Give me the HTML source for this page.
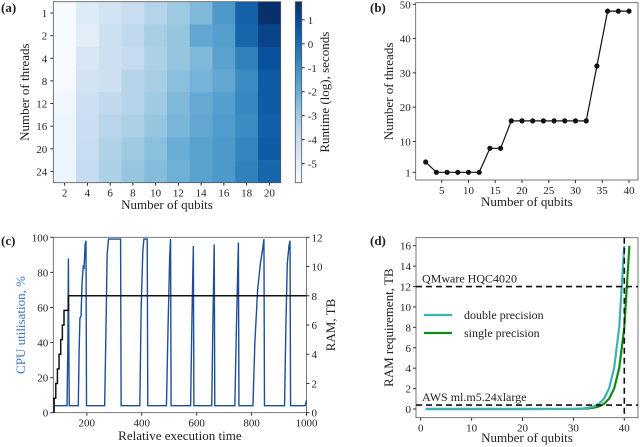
<!DOCTYPE html>
<html><head><meta charset="utf-8">
<style>
body{margin:0;background:#fff;}
svg{display:block;font-family:"Liberation Serif",serif;}
text{fill:#222;}
</style></head>
<body>
<svg id="fig" width="640" height="447" viewBox="0 0 640 447" xmlns="http://www.w3.org/2000/svg">
<defs>
<linearGradient id="cbgrad" x1="0" y1="1" x2="0" y2="0">
<stop offset="0" stop-color="#f7fbff"/><stop offset="0.125" stop-color="#deebf7"/><stop offset="0.25" stop-color="#c6dbef"/><stop offset="0.375" stop-color="#9ecae1"/><stop offset="0.5" stop-color="#6baed6"/><stop offset="0.625" stop-color="#4292c6"/><stop offset="0.75" stop-color="#2171b5"/><stop offset="0.875" stop-color="#08519c"/><stop offset="1" stop-color="#08306b"/>
</linearGradient>
</defs>
<g id="pa"></g>
<g id="pb"></g>
<g id="pc"></g>
<g id="pd"></g>
</svg>
<script>
// ---- Panel (a) data
const hmQubits=[2,4,6,8,10,12,14,16,18,20];
const hmThreads=[1,2,4,8,12,16,20,24];
const hmRow1=[-5.8,-4.8,-4.4,-4.0,-3.5,-3.0,-2.4,-1.3,0.3,1.75];
const hmRow2=[-5.8,-5.0,-4.2,-3.8,-3.2,-2.8,-1.8,-1.5,0.2,1.2];
const hmRow4=[-5.9,-4.6,-4.2,-3.9,-3.3,-2.8,-2.4,-1.6,-0.6,0.8];
const hmRow8=[-5.8,-4.4,-4.2,-3.5,-3.2,-2.6,-2.2,-1.8,-0.9,0.5];
const hmRow12=[-5.5,-4.2,-3.8,-3.5,-3.0,-2.4,-1.9,-1.5,-0.8,0.5];
const hmRow16=[-5.4,-4.1,-3.6,-3.3,-2.8,-2.3,-1.8,-1.4,-0.9,0.4];
const hmRow20=[-5.4,-4.0,-3.4,-3.0,-2.6,-2.0,-1.6,-1.3,-0.7,0.5];
const hmRow24=[-5.4,-3.9,-3.3,-2.8,-2.5,-2.1,-1.6,-1.3,-0.6,0.2];
const hmRows=[hmRow1,hmRow2,hmRow4,hmRow8,hmRow12,hmRow16,hmRow20,hmRow24];
const cbTicks=[1,0,-1,-2,-3,-4,-5];
// ---- Panel (b) data
const bQubits=[2,4,6,8,10,12,14,16,18,20,22,24,26,28,30,32,34,36,38,40];
const bThreads=[4,1,1,1,1,1,8,8,16,16,16,16,16,16,16,16,32,48,48,48];
const bXTicks=[5,10,15,20,25,30,35,40];
const bYTicks=[1,10,20,30,40,50];
// ---- Panel (c) data
const cpuTime=[78,128,131,133,135,136,169,172,175,179,183,187,190,194,197,199,265,269,274,279,323,325,393,398,404,408,420,422,490,496,502,505,507,578,583,588,590,655,659,664,666,739,745,752,754,805,812,822,832,840,845,847,920,925,930,936,940,942,995,1000];
const cpuVal=[4,4,40,88,30,4,4,35,54,55,75,83,82,96,98,4,4,40,90,99,99,4,4,60,92,99,99,4,4,50,90,99,4,4,55,95,4,4,50,96,4,4,50,97,4,4,40,70,85,93,99,4,4,50,85,95,98,4,4,7];
const ramStepTime=[81,87,93,99,105,111,117,125,133];
const ramStepVal=[1,2,3,4,5,6,7,7,8];
const cXTicks=[200,400,600,800,1000];
const cpuTicks=[0,20,40,60,80,100];
const ramTicks=[0,2,4,6,8,10,12];
// ---- Panel (d) data
const dQubitsDouble=[1,10,20,30,31,32,33,34,35,36,37,38,39,40];
const dRamDouble=[0,0,0,0.016,0.031,0.0625,0.125,0.25,0.5,1,2,4,8,16];
const dQubitsSingle=[1,10,20,30,31,32,33,34,35,36,37,38,39,40,41];
const dRamSingle=[0,0,0,0.008,0.016,0.031,0.0625,0.125,0.25,0.5,1,2,4,8,16];
const dHLines=[12,0.384];
const dVLine=[40];
const dXTicks=[0,10,20,30,40];
const dYTicks=[0,2,4,6,8,10,12,14,16];

const NS="http://www.w3.org/2000/svg";
function mk(parent,tag,attrs,txt){const e=document.createElementNS(NS,tag);for(const k in attrs)e.setAttribute(k,attrs[k]);if(txt!==undefined)e.textContent=txt;parent.appendChild(e);return e;}
function lin(d0,d1,r0,r1){return v=>r0+(v-d0)*(r1-r0)/(d1-d0);}
const blues=[[247,251,255],[222,235,247],[198,219,239],[158,202,225],[107,174,214],[66,146,198],[33,113,181],[8,81,156],[8,48,107]];
function blue(t){t=Math.max(0,Math.min(1,t));const p=t*8,i=Math.min(7,Math.floor(p)),f=p-i;const a=blues[i],b=blues[i+1];return `rgb(${a.map((c,k)=>Math.round(c+(b[k]-c)*f)).join(',')})`;}

// ===== Panel A
(function(){
const g=document.getElementById('pa');
const L=53.3,R=280.7,T=1.7,B=182.7;
const cw=(R-L)/hmQubits.length, ch=(B-T)/hmThreads.length;
const vmin=-5.8,vmax=1.76;
hmRows.forEach((row,r)=>row.forEach((v,c)=>{
 const e=mk(g,'rect',{x:L+c*cw,y:T+r*ch,width:cw+0.3,height:ch+0.3,fill:blue((v-vmin)/(vmax-vmin))});
 
 
}));
mk(g,'rect',{x:L,y:T,width:R-L,height:B-T,fill:'none',stroke:'#555','stroke-width':0.8});
hmQubits.forEach((q,c)=>{const x=L+(c+0.5)*cw;mk(g,'line',{x1:x,x2:x,y1:B,y2:B+3,stroke:'#333'});
 const t=mk(g,'text',{x:x,y:B+14,'text-anchor':'middle','font-size':11},q);});
hmThreads.forEach((n,r)=>{const y=T+(r+0.5)*ch;mk(g,'line',{x1:L-3,x2:L,y1:y,y2:y,stroke:'#333'});
 const t=mk(g,'text',{x:L-6,y:y+4,'text-anchor':'end','font-size':11},n);});
let t=mk(g,'text',{x:(L+R)/2,y:209,'text-anchor':'middle','font-size':13},'Number of qubits');
t=mk(g,'text',{x:0,y:0,'text-anchor':'middle','font-size':13,transform:`translate(29,${(T+B)/2}) rotate(-90)`},'Number of threads');
// colorbar
const cx0=295.3,cx1=301.7;
const cb=mk(g,'rect',{x:cx0,y:T,width:cx1-cx0,height:B-T,fill:'url(#cbgrad)',stroke:'#555','stroke-width':0.8});

const cy=lin(vmin,vmax,B,T);
cbTicks.forEach(v=>{const y=cy(v);mk(g,'line',{x1:cx1,x2:cx1+3,y1:y,y2:y,stroke:'#333'});
 const e=mk(g,'text',{x:cx1+6,y:y+4,'font-size':11},v);});
t=mk(g,'text',{x:0,y:0,'text-anchor':'middle','font-size':13,transform:`translate(329,${(T+B)/2}) rotate(-90)`},'Runtime (log), seconds');
t=mk(g,'text',{x:1,y:12,'font-size':13,'font-weight':'bold'},'(a)');
})();

// ===== Panel B
(function(){
const g=document.getElementById('pb');
const L=415.7,R=638,T=2.7,B=180;
const x=lin(2,40,425.7,629), y=lin(1,50,172.3,4.3);
mk(g,'rect',{x:L,y:T,width:R-L,height:B-T,fill:'none',stroke:'#555','stroke-width':0.8});
bXTicks.forEach(v=>{const X=x(v);mk(g,'line',{x1:X,x2:X,y1:B,y2:B+3,stroke:'#333'});
 const e=mk(g,'text',{x:X,y:B+14,'text-anchor':'middle','font-size':11},v);});
bYTicks.forEach(v=>{const Y=y(v);mk(g,'line',{x1:L-3,x2:L,y1:Y,y2:Y,stroke:'#333'});
 const e=mk(g,'text',{x:L-5,y:Y+4,'text-anchor':'end','font-size':11},v);});
const pl=mk(g,'polyline',{points:bQubits.map((q,i)=>x(q)+','+y(bThreads[i])).join(' '),fill:'none',stroke:'#111','stroke-width':1.2});

bQubits.forEach((q,i)=>{const c=mk(g,'circle',{cx:x(q),cy:y(bThreads[i]),r:2.6,fill:'#111'});});
let t=mk(g,'text',{x:(L+R)/2,y:206,'text-anchor':'middle','font-size':13},'Number of qubits');
t=mk(g,'text',{x:0,y:0,'text-anchor':'middle','font-size':13,transform:`translate(393,${(T+B)/2}) rotate(-90)`},'Number of threads');
t=mk(g,'text',{x:370,y:12,'font-size':13,'font-weight':'bold'},'(b)');
})();

// ===== Panel C
(function(){
const g=document.getElementById('pc');
const L=53.3,R=306.5,T=237.3,B=412.7;
const x=lin(78,1000,L,R), y=lin(0,100,B,T), yr=lin(0,12,B,T);
mk(g,'rect',{x:L,y:T,width:R-L,height:B-T,fill:'none',stroke:'#555','stroke-width':0.8});
cXTicks.forEach(v=>{const X=x(v);mk(g,'line',{x1:X,x2:X,y1:B,y2:B+3,stroke:'#333'});
 const e=mk(g,'text',{x:X,y:B+14,'text-anchor':'middle','font-size':11},v);});
cpuTicks.forEach(v=>{const Y=y(v);mk(g,'line',{x1:L-3,x2:L,y1:Y,y2:Y,stroke:'#333'});
 const e=mk(g,'text',{x:L-5,y:Y+4,'text-anchor':'end','font-size':11},v);});
ramTicks.forEach(v=>{const Y=yr(v);mk(g,'line',{x1:R,x2:R+3,y1:Y,y2:Y,stroke:'#333'});
 const e=mk(g,'text',{x:R+5,y:Y+4,'font-size':11},v);});
const cp=mk(g,'polyline',{points:cpuTime.map((t,i)=>x(t)+','+y(cpuVal[i])).join(' '),fill:'none',stroke:'#1d4f98','stroke-width':1.4});

let pts=[[x(ramStepTime[0]),yr(0)]];let prev=0;
ramStepTime.forEach((t,i)=>{pts.push([x(t),yr(prev)]);pts.push([x(t),yr(ramStepVal[i])]);prev=ramStepVal[i];});
pts.push([R,yr(prev)]);
const rl=mk(g,'polyline',{points:pts.map(p=>p.join(',')).join(' '),fill:'none',stroke:'#111','stroke-width':1.5});

let t=mk(g,'text',{x:(L+R)/2,y:440,'text-anchor':'middle','font-size':13},'Relative execution time');
t=mk(g,'text',{x:0,y:0,'text-anchor':'middle','font-size':13,fill:'#3b78c3',style:'fill:#3b78c3',transform:`translate(25,${(T+B)/2}) rotate(-90)`},'CPU utilisation, %');
t=mk(g,'text',{x:0,y:0,'text-anchor':'middle','font-size':13,transform:`translate(335,${(T+B)/2}) rotate(-90)`},'RAM, TB');
t=mk(g,'text',{x:1,y:245,'font-size':13,'font-weight':'bold'},'(c)');
})();

// ===== Panel D
(function(){
const g=document.getElementById('pd');
const L=416,R=638,T=237.7,B=417.7;
const x=lin(0,40,420.7,624.3), y=lin(0,16,409,245.7);
mk(g,'rect',{x:L,y:T,width:R-L,height:B-T,fill:'none',stroke:'#555','stroke-width':0.8});
dXTicks.forEach(v=>{const X=x(v);mk(g,'line',{x1:X,x2:X,y1:B,y2:B+3,stroke:'#333'});
 const e=mk(g,'text',{x:X,y:B+14,'text-anchor':'middle','font-size':11},v);});
dYTicks.forEach(v=>{const Y=y(v);mk(g,'line',{x1:L-3,x2:L,y1:Y,y2:Y,stroke:'#333'});
 const e=mk(g,'text',{x:L-5,y:Y+4,'text-anchor':'end','font-size':11},v);});
const sd=mk(g,'polyline',{points:dQubitsSingle.map((q,i)=>x(q)+','+y(dRamSingle[i])).join(' '),fill:'none',stroke:'#0f8a12','stroke-width':2.2});

const dd=mk(g,'polyline',{points:dQubitsDouble.map((q,i)=>x(q)+','+y(dRamDouble[i])).join(' '),fill:'none',stroke:'#3fb2b0','stroke-width':2.2});

dHLines.forEach(v=>{const e=mk(g,'line',{x1:L,x2:R,y1:y(v),y2:y(v),stroke:'#111','stroke-width':1.6,'stroke-dasharray':'6,4'});});
dVLine.forEach(v=>{const e=mk(g,'line',{x1:x(v),x2:x(v),y1:T,y2:B,stroke:'#111','stroke-width':1.6,'stroke-dasharray':'6,4'});});
let t=mk(g,'text',{x:422,y:y(12)-4,'font-size':12},'QMware HQC4020');
t=mk(g,'text',{x:422,y:y(0.384)-4,'font-size':12},'AWS ml.m5.24xlarge');
mk(g,'line',{x1:424,x2:452,y1:315,y2:315,stroke:'#3fb2b0','stroke-width':2.2});
mk(g,'line',{x1:424,x2:452,y1:333,y2:333,stroke:'#0f8a12','stroke-width':2.2});
t=mk(g,'text',{x:464,y:319,'font-size':12},'double precision');
t=mk(g,'text',{x:464,y:337,'font-size':12},'single precision');
t=mk(g,'text',{x:(L+R)/2,y:442,'text-anchor':'middle','font-size':13},'Number of qubits');
t=mk(g,'text',{x:0,y:0,'text-anchor':'middle','font-size':13,transform:`translate(393,${(T+B)/2}) rotate(-90)`},'RAM requirement, TB');
t=mk(g,'text',{x:370,y:245,'font-size':13,'font-weight':'bold'},'(d)');
})();
</script>
</body></html>
